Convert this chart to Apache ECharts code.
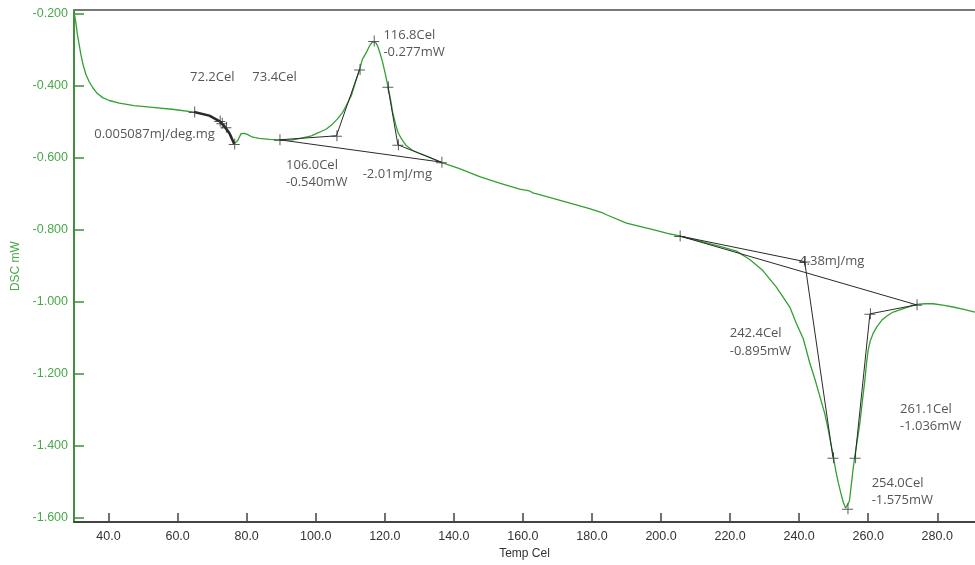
<!DOCTYPE html>
<html><head><meta charset="utf-8">
<script src="https://cdn.jsdelivr.net/npm/echarts@6/dist/echarts.min.js"></script>
<style>html,body{margin:0;padding:0;background:#fff}#c{width:975px;height:565px}</style>
</head><body><div id="c"></div>
<script>
// DSC curve: temperature (Cel) and heat flow (mW)
const tempC = [30.0,30.5,31.0,31.5,32.0,32.7,33.45,34.4,35.4,36.7,38.3,40.2,43.1,47.4,52.75,59.0,64.8,69.2,72.6,74.0,75.5,76.4,77.4,78.4,79.3,80.2,81.3,82.5,83.7,86.6,89.5,93.0,96.2,98.75,101.1,103.1,104.9,106.3,107.8,108.9,110.3,111.5,112.7,113.5,114.6,115.6,116.5,116.8,117.45,118.0,118.75,119.4,120.2,120.9,121.65,122.3,123.1,123.8,124.8,126.2,128.0,130.1,133.0,136.3,141.65,147.45,153.25,159.05,161.9,163.1,164.3,172.6,179.3,181.3,183.1,184.2,190.0,197.7,201.9,205.4,209.2,213.2,217.6,221.85,225.7,229.5,233.4,237.3,239.2,241.2,243.1,244.6,246.0,247.45,248.4,249.2,249.9,250.6,251.3,252.1,252.75,253.45,254.0,254.55,255.2,255.65,256.15,256.9,257.6,258.3,259.05,259.5,260.0,260.6,261.4,262.5,263.9,265.4,267.25,270.6,274.0,276.4,278.8,281.6,284.6,288.0,290.9];
const dscMW = [-0.195,-0.224,-0.260,-0.287,-0.315,-0.345,-0.370,-0.390,-0.406,-0.422,-0.434,-0.442,-0.449,-0.456,-0.461,-0.467,-0.474,-0.484,-0.502,-0.516,-0.539,-0.562,-0.553,-0.534,-0.533,-0.536,-0.542,-0.545,-0.547,-0.550,-0.551,-0.552,-0.546,-0.540,-0.530,-0.521,-0.507,-0.493,-0.475,-0.455,-0.429,-0.392,-0.356,-0.328,-0.310,-0.290,-0.279,-0.277,-0.282,-0.292,-0.315,-0.337,-0.370,-0.402,-0.438,-0.475,-0.507,-0.530,-0.548,-0.567,-0.580,-0.589,-0.600,-0.614,-0.631,-0.653,-0.671,-0.688,-0.693,-0.699,-0.702,-0.724,-0.742,-0.748,-0.754,-0.759,-0.782,-0.800,-0.811,-0.818,-0.827,-0.837,-0.848,-0.860,-0.883,-0.914,-0.960,-1.015,-1.061,-1.103,-1.171,-1.216,-1.263,-1.312,-1.354,-1.395,-1.428,-1.469,-1.501,-1.532,-1.556,-1.573,-1.575,-1.554,-1.501,-1.463,-1.428,-1.381,-1.336,-1.277,-1.217,-1.172,-1.134,-1.109,-1.089,-1.070,-1.052,-1.040,-1.029,-1.018,-1.008,-1.006,-1.006,-1.010,-1.015,-1.022,-1.029];

// axis ticks
const xTicks = [40,60,80,100,120,140,160,180,200,220,240,260,280];
const yTicks = [-1.6,-1.4,-1.2,-1.0,-0.8,-0.6,-0.4,-0.2];

// analysis construction lines [Cel, mW]
const tgSegment = [[64.8,-0.474],[69.2,-0.484],[72.2,-0.500],[73.4,-0.512],[75.0,-0.533],[76.4,-0.563]];
const peak1Baseline = [[89.5,-0.551],[136.4,-0.613]];
const peak1Onset = [[89.5,-0.551],[106.0,-0.540],[112.7,-0.356]];
const peak1Endset = [[120.9,-0.404],[123.8,-0.565],[136.4,-0.613]];
const peak2Baseline = [[205.4,-0.818],[274.0,-1.009]];
const peak2Onset = [[205.4,-0.818],[241.6,-0.889],[249.8,-1.433]];
const peak2Endset = [[256.2,-1.433],[260.5,-1.034],[274.0,-1.009]];
const crossT = [64.8,72.2,72.8,74.0,76.4,89.5,106.0,112.7,116.8,120.9,123.8,136.4,205.4,241.6,249.8,254.0,256.2,260.5,274.0];
const crossV = [-0.474,-0.499,-0.505,-0.516,-0.563,-0.551,-0.540,-0.356,-0.277,-0.404,-0.565,-0.613,-0.818,-0.889,-1.433,-1.575,-1.433,-1.034,-1.009];

// annotation texts and their anchor (top-left) in data units
const noteText = ['72.2Cel','73.4Cel','0.005087mJ/deg.mg','116.8Cel','-0.277mW','106.0Cel','-0.540mW','-2.01mJ/mg','4.38mJ/mg','242.4Cel','-0.895mW','261.1Cel','-1.036mW','254.0Cel','-1.575mW'];
const noteT = [63.6,81.65,35.85,119.6,119.6,91.4,91.4,113.6,240.0,219.9,219.9,269.2,269.2,261.0,261.0];
const noteV = [-0.360,-0.360,-0.5174,-0.2426,-0.2904,-0.6037,-0.6521,-0.6293,-0.8703,-1.0690,-1.1193,-1.2798,-1.3274,-1.4860,-1.5335];

const GREEN = '#33a033';
const AXGREEN = '#3f8f3f';
const LBLGREEN = '#4aa84a';
const INK = '#2a2a2a';

const curve = tempC.map((t,i)=>[t,dscMW[i]]);
const crosses = crossT.map((t,i)=>[t,crossV[i]]);
const notes = noteText.map((s,i)=>({value:[noteT[i],noteV[i]], name:s}));

function lineSeries(data, width){
  return {type:'line', data:data, showSymbol:false, symbol:'none', silent:true, z:3,
    lineStyle:{color:INK, width:width||1}};
}

const chart = echarts.init(document.getElementById('c'), null, {renderer:'canvas'});
chart.setOption({
  animation:false,
  backgroundColor:'#fff',
  grid:{left:74, right:0, top:10, bottom:38, containLabel:false},
  xAxis:[{
    type:'value', min:30, max:290.93,
    name:'Temp Cel', nameLocation:'middle', nameGap:20,
    nameTextStyle:{color:'#333', fontFamily:'Liberation Sans', fontSize:12},
    axisLine:{show:true, onZero:false, lineStyle:{color:'#444', width:2}},
    axisTick:{show:true, inside:true, length:9, customValues:xTicks, lineStyle:{color:'#444', width:1.5}},
    axisLabel:{customValues:xTicks, margin:8, color:'#333', fontFamily:'Liberation Sans', fontSize:12.5,
      formatter:(v)=>v.toFixed(1)},
    splitLine:{show:false}
  },{
    type:'value', position:'top', min:30, max:290.93,
    axisLine:{show:true, lineStyle:{color:'#777', width:2}},
    axisTick:{show:false}, axisLabel:{show:false}, splitLine:{show:false}
  }],
  yAxis:{
    type:'value', min:-1.6118, max:-0.1909,
    name:'DSC mW', nameLocation:'middle', nameGap:52, nameRotate:90,
    nameTextStyle:{color:LBLGREEN, fontFamily:'Liberation Sans', fontSize:12},
    axisLine:{show:true, onZero:false, lineStyle:{color:AXGREEN, width:2}},
    axisTick:{show:true, inside:true, length:10, customValues:yTicks, lineStyle:{color:AXGREEN, width:1.5}},
    axisLabel:{customValues:yTicks, margin:6, color:LBLGREEN, fontFamily:'Liberation Sans', fontSize:12.5,
      formatter:(v)=>v.toFixed(3)},
    splitLine:{show:false}
  },
  series:[
    {type:'line', data:curve, showSymbol:false, symbol:'none', silent:true, z:2,
      lineStyle:{color:GREEN, width:1.3}},
    lineSeries(tgSegment, 2.5),
    lineSeries(peak1Baseline),
    lineSeries(peak1Onset),
    lineSeries(peak1Endset),
    lineSeries(peak2Baseline),
    lineSeries(peak2Onset),
    lineSeries(peak2Endset),
    {type:'scatter', data:crosses, silent:true, z:4,
      symbol:'path://M0,5.5L11,5.5L11,6.5L0,6.5Z M5.5,0L6.5,0L6.5,11L5.5,11Z',
      symbolSize:11, itemStyle:{color:'#333'}},
    {type:'scatter', data:notes, silent:true, z:5, symbolSize:0,
      label:{show:true, position:[0,0], align:'left', verticalAlign:'top',
        formatter:(p)=>p.name, color:'#2b2b2b', fontFamily:'Open Sans', fontSize:13}}
  ]
});
</script>
</body></html>
